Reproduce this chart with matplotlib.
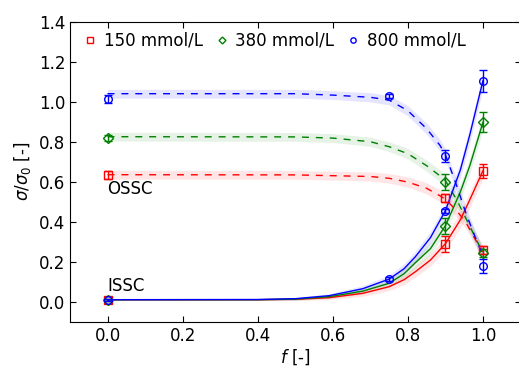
import matplotlib
matplotlib.use("Agg")
import matplotlib.pyplot as plt

# measured points
f_meas = [0.0, 0.75, 0.9, 1.0]
labels = ["150 mmol/L", "380 mmol/L", "800 mmol/L"]
colors = ["r", "g", "b"]
markers = ["s", "D", "o"]

# OSSC
ossc_150 = [0.633, None, 0.52, 0.26]
ossc_380 = [0.82, None, 0.60, 0.245]
ossc_800 = [1.013, 1.03, 0.73, 0.18]
ossc_err_150 = [0.02, 0, 0.02, 0.02]
ossc_err_380 = [0.015, 0, 0.04, 0.02]
ossc_err_800 = [0.02, 0.01, 0.03, 0.035]

# ISSC
issc_150 = [0.01, None, 0.287, 0.655]
issc_380 = [0.01, None, 0.38, 0.897]
issc_800 = [0.01, 0.112, 0.455, 1.105]
issc_err_150 = [0.005, 0, 0.04, 0.035]
issc_err_380 = [0.005, 0, 0.04, 0.05]
issc_err_800 = [0.005, 0.01, 0.01, 0.055]

# fitted curves
f_ossc = [0.0, 0.5, 0.6, 0.7, 0.75, 0.8, 0.85, 0.885, 0.9, 0.93, 0.955, 0.98, 1.0]
ossc_fit_150 = [0.635, 0.634, 0.63, 0.626, 0.617, 0.598, 0.567, 0.53, 0.512, 0.455, 0.395, 0.31, 0.25]
ossc_fit_380 = [0.825, 0.824, 0.818, 0.80, 0.775, 0.74, 0.68, 0.63, 0.605, 0.51, 0.415, 0.32, 0.242]
ossc_fit_800 = [1.04, 1.04, 1.033, 1.022, 1.008, 0.955, 0.865, 0.783, 0.735, 0.58, 0.44, 0.32, 0.23]
band_ossc = [0.022, 0.022, 0.022, 0.023, 0.024, 0.026, 0.028, 0.03, 0.03, 0.032, 0.032, 0.032, 0.032]

f_issc = [0.0, 0.4, 0.5, 0.59, 0.68, 0.75, 0.79, 0.82, 0.86, 0.9, 0.94, 0.965, 1.0]
issc_fit_150 = [0.01, 0.01, 0.012, 0.02, 0.042, 0.075, 0.11, 0.15, 0.208, 0.29, 0.41, 0.51, 0.655]
issc_fit_380 = [0.01, 0.01, 0.013, 0.025, 0.053, 0.092, 0.14, 0.195, 0.265, 0.38, 0.55, 0.68, 0.897]
issc_fit_800 = [0.01, 0.011, 0.015, 0.03, 0.065, 0.113, 0.165, 0.225, 0.32, 0.455, 0.66, 0.835, 1.105]
band_issc = [0.004, 0.004, 0.006, 0.01, 0.015, 0.02, 0.024, 0.027, 0.03, 0.035, 0.04, 0.04, 0.04]

ossc = [ossc_150, ossc_380, ossc_800]
ossc_err = [ossc_err_150, ossc_err_380, ossc_err_800]
issc = [issc_150, issc_380, issc_800]
issc_err = [issc_err_150, issc_err_380, issc_err_800]
ossc_fit = [ossc_fit_150, ossc_fit_380, ossc_fit_800]
issc_fit = [issc_fit_150, issc_fit_380, issc_fit_800]


def points(values, errors):
    xs, ys, es = [], [], []
    for x, y, e in zip(f_meas, values, errors):
        if y is not None:
            xs.append(x)
            ys.append(y)
            es.append(e)
    return xs, ys, es


def band(ax, xs, ys, widths, c):
    lo = [y - w for y, w in zip(ys, widths)]
    hi = [y + w for y, w in zip(ys, widths)]
    ax.fill_between(xs, lo, hi, color=c, alpha=0.1, lw=0)


def main():
    fig = plt.figure(figsize=(5.19, 3.66), dpi=100)
    ax = fig.add_axes([70 / 519, 44.3 / 366, 450.5 / 519, 300 / 366])

    for i in range(3):
        c = colors[i]
        ms = 5 if markers[i] == 'D' else 5.5
        band(ax, f_ossc, ossc_fit[i], band_ossc, c)
        band(ax, f_issc, issc_fit[i], band_issc, c)
        ax.plot(f_ossc, ossc_fit[i], color=c, ls=(0, (5, 5)), lw=1)
        ax.plot(f_issc, issc_fit[i], color=c, ls='-', lw=1)

        xs, ys, es = points(ossc[i], ossc_err[i])
        ax.errorbar(xs, ys, yerr=es, fmt=markers[i], color=c, mfc='none', mec=c,
                    ms=ms, capsize=3, elinewidth=1, mew=1, label=labels[i])
        xs, ys, es = points(issc[i], issc_err[i])
        ax.errorbar(xs, ys, yerr=es, fmt=markers[i], color=c, mfc='none', mec=c,
                    ms=ms, capsize=3, elinewidth=1, mew=1)

    ax.text(0.0, 0.565, "OSSC", fontsize=12, va='center', ha='left')
    ax.text(0.0, 0.08, "ISSC", fontsize=12, va='center', ha='left')

    ax.set_xlim(-0.1, 1.1)
    ax.set_ylim(-0.1, 1.4)
    ax.set_xticks([0.0, 0.2, 0.4, 0.6, 0.8, 1.0])
    ax.set_yticks([0.0, 0.2, 0.4, 0.6, 0.8, 1.0, 1.2, 1.4])
    ax.tick_params(direction='in', top=True, right=True, labelsize=12, length=4)
    ax.set_xlabel("$f$ [-]", fontsize=12, labelpad=2)
    ax.set_ylabel(r"$\sigma/\sigma_0$ [-]", fontsize=12)

    handles, labs = ax.get_legend_handles_labels()
    handles = [h[0] for h in handles]
    ax.legend(handles, labs, loc='upper left', bbox_to_anchor=(0.012, 1.0), ncol=3,
              frameon=False, numpoints=1, markerscale=0.7, fontsize=12,
              handlelength=0.6, handletextpad=0.5, columnspacing=0.85,
              borderaxespad=0.2)

    fig.savefig("out.png", dpi=100)


if __name__ == '__main__':
    main()
